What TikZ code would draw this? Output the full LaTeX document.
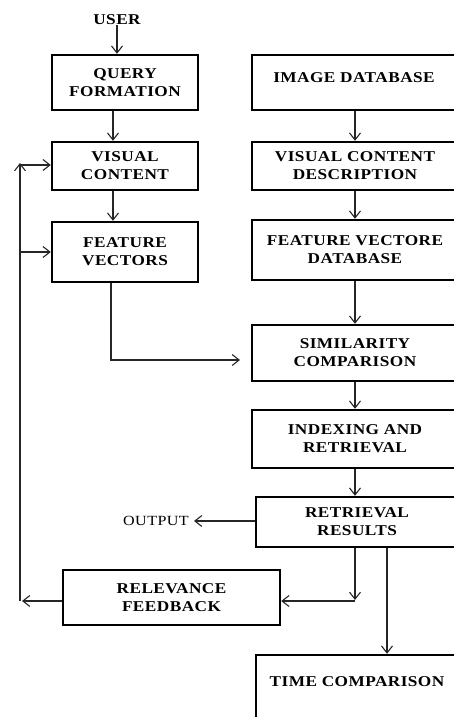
\documentclass[tikz,border=0pt]{standalone}
\usepackage{fontspec}
\setmainfont{Liberation Serif}
\newfontfamily\diagfont[FakeStretch=1.15, LetterSpace=3]{Liberation Serif}
\usetikzlibrary{arrows.meta}
\begin{document}
\begin{tikzpicture}[x=1pt,y=-1pt,
  box/.style={draw, line width=2.4pt, align=center, inner sep=0pt, font=\diagfont\fontsize{15}{18}\selectfont\bfseries},
  txt/.style={align=center, inner sep=0pt, font=\diagfont\fontsize{15}{18}\selectfont\bfseries},
  arr/.style={-{Straight Barb[length=7pt,width=11pt]}, line width=1.1pt, draw=black!85}]
\useasboundingbox (0,0) rectangle (454,717);
\clip (0,0) rectangle (454,717);
% coordinates for connector columns
\coordinate (ax) at (113,0);
\coordinate (bx) at (355,0);
\coordinate (fvx) at (111,0);
\coordinate (lx) at (20,0);
% left column
\node[txt] (user) at (117,20) {USER};
\node[box, minimum width=146pt, minimum height=55pt] (qf) at (125,82.5) {QUERY\\FORMATION};
\node[box, minimum width=146pt, minimum height=48pt] (vc) at (125,166) {VISUAL\\CONTENT};
\node[box, minimum width=146pt, minimum height=60pt] (fv) at (125,252) {FEATURE\\VECTORS};
% right column
\node[box, minimum width=206pt, minimum height=55pt] (idb) at (355,82.5) {};
\node[txt] (idbt) at (354,78) {IMAGE DATABASE};
\node[box, minimum width=206pt, minimum height=48pt] (vcd) at (355,166) {VISUAL CONTENT\\DESCRIPTION};
\node[box, minimum width=206pt, minimum height=60pt] (fvd) at (355,250) {FEATURE VECTORE\\DATABASE};
\node[box, minimum width=206pt, minimum height=56pt] (sim) at (355,353) {SIMILARITY\\COMPARISON};
\node[box, minimum width=206pt, minimum height=58pt] (idx) at (355,439) {INDEXING AND\\RETRIEVAL};
\node[box, minimum width=202pt, minimum height=50pt] (rr) at (357,522) {RETRIEVAL\\RESULTS};
\node[box, minimum width=202pt, minimum height=90pt] (tc) at (357,700) {};
\node[txt] (tct) at (357,682) {TIME COMPARISON};
\node[box, minimum width=217pt, minimum height=55pt] (rf) at (171.5,597.5) {RELEVANCE\\FEEDBACK};
\node[txt, font=\diagfont\fontsize{14}{16}\selectfont] (out) at (156,521) {OUTPUT};
% helper coordinates
\coordinate (fvend) at (240,360);
\coordinate (rrdown) at (355,600);
\coordinate (rrleft) at (355,601);
\coordinate (tcx) at (387,0);
\coordinate (fbtop) at (20,165);
\coordinate (fbbot) at (22,601);
% connectors
\draw[arr] (user.south) -- (user.south |- qf.north);
\draw[arr] (qf.south -| ax) -- (vc.north -| ax);
\draw[arr] (vc.south -| ax) -- (fv.north -| ax);
\draw[arr] (idb.south -| bx) -- (vcd.north -| bx);
\draw[arr] (vcd.south -| bx) -- (fvd.north -| bx);
\draw[arr] (fvd.south -| bx) -- (sim.north -| bx);
\draw[arr] (sim.south -| bx) -- (idx.north -| bx);
\draw[arr] (idx.south -| bx) -- (rr.north -| bx);
\draw[arr] (fv.south -| fvx) |- (fvend);
\draw[arr] (rr.west |- out) -- ([xshift=5pt]out.east);
\draw[arr] (rr.south -| rrdown) -- (rrdown);
\draw[arr] (rrleft) -- (rf.east |- rrleft);
\draw[arr] (rf.west |- fbbot) -- (fbbot);
\draw[arr] (fbbot -| lx) -- ([yshift=2pt]fbtop);
\draw[arr] (fbtop) -- (vc.west |- fbtop);
\draw[arr] (fv.west -| lx) -- (fv.west);
\draw[arr] (rr.south -| tcx) -- (tc.north -| tcx);
\end{tikzpicture}
\end{document}
